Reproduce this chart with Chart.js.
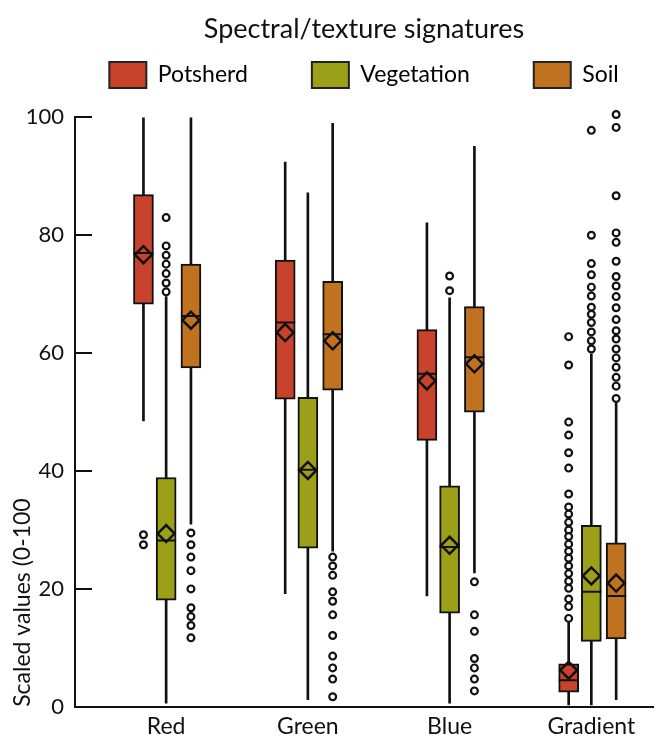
<!DOCTYPE html>
<html>
<head>
<meta charset="utf-8">
<script src="https://cdn.jsdelivr.net/npm/chart.js@4.4.1/dist/chart.umd.min.js"></script>
<style>
  html, body { margin: 0; padding: 0; background: #fff; }
  #wrap { width: 665px; height: 748px; }
</style>
</head>
<body>
<div id="wrap"><canvas id="chart"></canvas></div>
<script>
// ─── Data ────────────────────────────────────────────────────────────────────

const CATEGORIES = ['Red', 'Green', 'Blue', 'Gradient'];
const SERIES = ['Potsherd', 'Vegetation', 'Soil'];

// [lower whisker, Q1, median, Q3, upper whisker] for each category
const POTSHERD_BOX = [
  [48.5, 68.3, 77.0, 86.9, 100.0],
  [19.2, 52.2, 65.2, 75.8, 92.4],
  [18.8, 45.2, 56.5, 64.0, 82.1],
  [0.3, 2.5, 4.5, 7.3, 14.3],
];
const VEGETATION_BOX = [
  [0.6, 18.1, 28.2, 38.9, 69.6],
  [1.2, 26.9, 40.2, 52.5, 87.2],
  [0.6, 15.9, 27.1, 37.5, 69.4],
  [0.3, 11.1, 19.5, 30.8, 59.9],
];
const SOIL_BOX = [
  [31.0, 57.5, 66.3, 75.1, 100.0],
  [26.4, 53.7, 63.2, 72.2, 99.0],
  [22.7, 50.0, 59.3, 67.9, 95.1],
  [1.2, 11.5, 18.8, 27.8, 51.5],
];

const POTSHERD_MEAN   = [76.7, 63.5, 55.3, 6.2];
const VEGETATION_MEAN = [29.4, 40.1, 27.4, 22.2];
const SOIL_MEAN       = [65.6, 62.1, 58.2, 21.0];

const POTSHERD_OUTLIERS = [
  [29.2, 27.5],
  [],
  [],
  [62.8, 58.0, 48.3, 46.1, 43.1, 40.5, 36.1, 33.9, 32.7, 31.3, 30.0, 28.9,
   27.6, 26.4, 25.2, 23.9, 22.6, 21.3, 20.1, 18.3, 17.0, 15.0],
];
const VEGETATION_OUTLIERS = [
  [83.0, 78.2, 76.6, 75.1, 73.5, 71.9, 70.4],
  [],
  [73.1, 70.6],
  [97.8, 80.0, 75.2, 73.3, 71.2, 69.7, 67.8, 66.6, 65.2, 63.6, 62.1, 60.7],
];
const SOIL_OUTLIERS = [
  [29.5, 27.5, 25.4, 23.1, 20.0, 16.8, 15.3, 13.8, 11.7],
  [25.4, 23.9, 22.3, 19.5, 17.9, 15.6, 12.1, 8.6, 6.6, 4.7, 1.7],
  [21.2, 15.6, 12.8, 8.2, 6.6, 4.7, 2.7],
  [100.5, 98.3, 86.7, 80.4, 78.8, 75.6, 73.0, 71.4, 69.6, 67.7, 65.7, 63.8,
   62.4, 60.7, 59.2, 57.6, 55.9, 54.4, 52.3],
];

const Y_MIN = 0;
const Y_MAX = 100;
const Y_STEP = 20;

// ─── Style ───────────────────────────────────────────────────────────────────

const FONT = "Lato, 'Noto Sans', sans-serif";
const INK = '#111';
const SERIES_COLORS = ['#C9432C', '#9BA018', '#C17221'];
const SERIES_OFFSETS = [-0.16, 0, 0.175];   // position inside a category, in category units
const LEGEND_PAD = 64;

// ─── Datasets ────────────────────────────────────────────────────────────────

function boxDatasets(s, box, mean, outliers) {
  const xs = CATEGORIES.map((_, i) => i + 1 + SERIES_OFFSETS[s]);
  return [
    {
      type: 'bar', label: SERIES[s] + ' whiskers',
      data: xs.map((x, i) => ({ x, y: [box[i][0], box[i][4]] })),
      backgroundColor: INK, borderWidth: 0, barThickness: 2, grouped: false, order: 5,
    },
    {
      type: 'bar', label: SERIES[s],
      data: xs.map((x, i) => ({ x, y: [box[i][1], box[i][3]] })),
      backgroundColor: SERIES_COLORS[s], borderColor: INK, borderWidth: 2,
      borderSkipped: false, barThickness: 20, grouped: false, order: 4,
    },
    {
      type: 'scatter', label: SERIES[s] + ' median',
      data: xs.map((x, i) => ({ x, y: box[i][2] })),
      pointStyle: 'line', pointRadius: 10, pointBorderColor: INK, pointBorderWidth: 2, order: 3,
    },
    {
      type: 'scatter', label: SERIES[s] + ' mean',
      data: xs.map((x, i) => ({ x, y: mean[i] })),
      pointStyle: 'rectRot', pointRadius: 8.5, pointBackgroundColor: 'rgba(0,0,0,0)',
      pointBorderColor: INK, pointBorderWidth: 2.5, order: 2,
    },
    {
      type: 'scatter', label: SERIES[s] + ' outliers',
      data: outliers.flatMap((list, i) => list.map(y => ({ x: xs[i], y }))),
      pointStyle: 'circle', pointRadius: 3.4, pointBackgroundColor: '#fff',
      pointBorderColor: INK, pointBorderWidth: 2.2, clip: false, order: 1,
    },
  ];
}

const datasets = [
  ...boxDatasets(0, POTSHERD_BOX, POTSHERD_MEAN, POTSHERD_OUTLIERS),
  ...boxDatasets(1, VEGETATION_BOX, VEGETATION_MEAN, VEGETATION_OUTLIERS),
  ...boxDatasets(2, SOIL_BOX, SOIL_MEAN, SOIL_OUTLIERS),
];

// Legend: wide horizontal gaps without a tall legend box, centred over the plot
const legendSpacing = {
  id: 'legendSpacing',
  beforeInit(chart) {
    const legend = chart.legend;
    const fit = legend.fit;
    legend.fit = function () { fit.call(this); this.height = 72; };
  },
  afterLayout(chart) {
    const legend = chart.legend;
    const area = chart.chartArea;
    const dx = (area.left + area.right) / 2 - (legend.left + legend.right) / 2;
    legend.left += dx;
    legend.right += dx;
    legend.top = 62 - LEGEND_PAD;
  },
};

new Chart(document.getElementById('chart'), {
  type: 'bar',
  data: { datasets },
  plugins: [legendSpacing],
  options: {
    responsive: true,
    maintainAspectRatio: false,
    animation: false,
    events: [],
    layout: { padding: 0 },
    plugins: {
      tooltip: { enabled: false },
      title: {
        display: true,
        text: 'Spectral/texture signatures',
        fullSize: false,
        color: INK,
        font: { family: FONT, size: 27, weight: 'normal', lineHeight: 1.2 },
        padding: { top: 13, bottom: 0 },
      },
      legend: {
        display: true,
        position: 'top',
        fullSize: true,
        labels: {
          boxWidth: 37,
          boxHeight: 26,
          padding: LEGEND_PAD,
          color: INK,
          font: { family: FONT, size: 23 },
          generateLabels: () => SERIES.map((name, s) => ({
            text: name,
            fillStyle: SERIES_COLORS[s],
            strokeStyle: '#222',
            lineWidth: 2,
            hidden: false,
            datasetIndex: s * 5 + 1,
          })),
        },
      },
    },
    scales: {
      x: {
        type: 'linear',
        offset: false,
        min: 0.357,
        max: 4.435,
        afterBuildTicks: scale => { scale.ticks = CATEGORIES.map((_, i) => ({ value: i + 1 })); },
        afterFit: scale => { scale.height = 36; },
        grid: { display: false, drawTicks: false },
        border: { display: true, color: INK, width: 2 },
        ticks: {
          color: INK,
          font: { family: FONT, size: 23 },
          padding: 6,
          maxRotation: 0,
          autoSkip: false,
          callback: v => CATEGORIES[Math.round(v) - 1],
        },
      },
      y: {
        min: Y_MIN,
        max: Y_MAX,
        afterFit: scale => { scale.width = 75; },
        grid: {
          drawOnChartArea: false,
          drawTicks: true,
          tickLength: -17,
          color: INK,
          lineWidth: 2,
        },
        border: { display: true, color: INK, width: 2 },
        ticks: {
          stepSize: Y_STEP,
          color: INK,
          font: { family: FONT, size: 22 },
          padding: 28,
        },
        title: {
          display: true,
          text: 'Scaled values (0-100',
          align: 'start',
          color: INK,
          font: { family: FONT, size: 23, lineHeight: 1.2 },
          padding: { top: 9, bottom: 0 },
        },
      },
    },
  },
});
</script>
</body>
</html>
